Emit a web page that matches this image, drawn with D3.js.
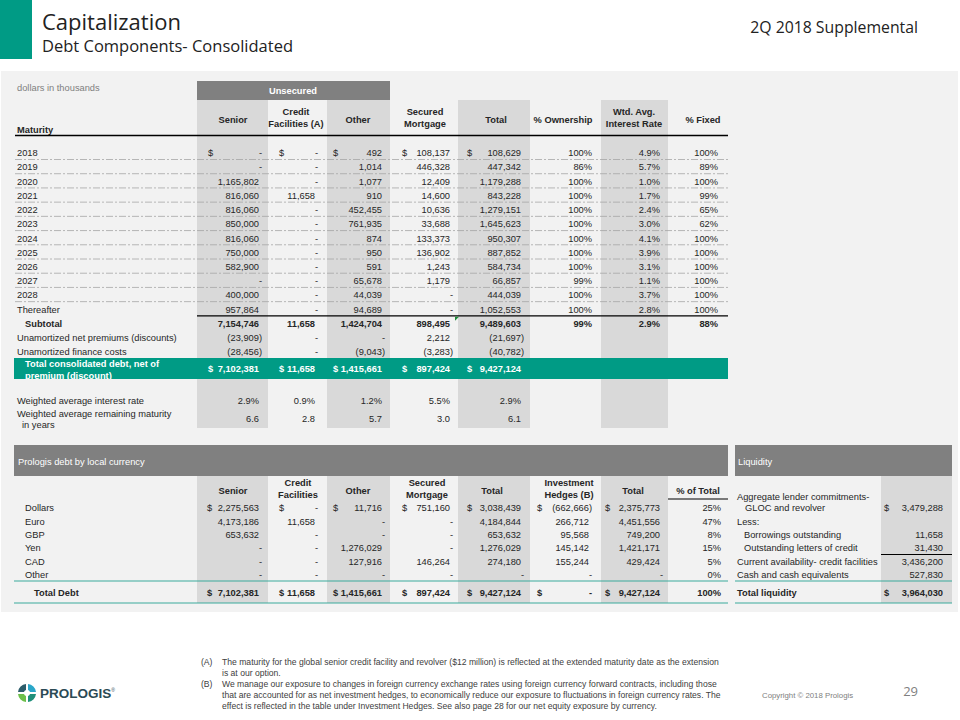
<!DOCTYPE html>
<html><head><meta charset="utf-8">
<script src="https://cdn.jsdelivr.net/npm/d3@7"></script>
<style>
html,body{margin:0;padding:0;background:#fff;}
svg{display:block;}
text{font-family:"Liberation Sans",Arial,sans-serif;}
.title{font-family:"Open Sans","Noto Sans",sans-serif;}
</style></head>
<body>
<script>
// ---------------- DATA ----------------
const maturityYears = ["2018","2019","2020","2021","2022","2023","2024","2025","2026","2027","2028","Thereafter"];
const seniorByYear   = [0,0,1165802,816060,816060,850000,816060,750000,582900,0,400000,957864];
const creditByYear   = [0,0,0,11658,0,0,0,0,0,0,0,0];
const otherByYear    = [492,1014,1077,910,452455,761935,874,950,591,65678,44039,94689];
const securedByYear  = [108137,446328,12409,14600,10636,33688,133373,136902,1243,1179,0,0];
const totalByYear    = [108629,447342,1179288,843228,1279151,1645623,950307,887852,584734,66857,444039,1052553];
const ownershipPct   = [100,86,100,100,100,100,100,100,100,99,100,100];
const interestRate   = [4.9,5.7,1.0,1.7,2.4,3.0,4.1,3.9,3.1,1.1,3.7,2.8];
const fixedPct       = [100,89,100,99,65,62,100,100,100,100,100,100];

const topHeaders = [["Senior"],["Credit","Facilities (A)"],["Other"],["Secured","Mortgage"],["Total"],["% Ownership"],["Wtd. Avg.","Interest Rate"],["% Fixed"]];
const subtotalRow = [7154746,11658,1424704,898495,9489603];
const subtotalPcts = ["99%","2.9%","88%"];
const premiumsRow = [-23909,0,0,2212,-21697];
const financeCostsRow = [-28456,0,-9043,-3283,-40782];
const totalConsolidatedRow = [7102381,11658,1415661,897424,9427124];
const wtdRateRow = [2.9,0.9,1.2,5.5,2.9];
const wtdMaturityRow = [6.6,2.8,5.7,3.0,6.1];

const currencies = ["Dollars","Euro","GBP","Yen","CAD","Other"];
const curHeaders = [["Senior"],["Credit","Facilities"],["Other"],["Secured","Mortgage"],["Total"],["Investment","Hedges (B)"],["Total"],["% of Total"]];
const curSenior  = [2275563,4173186,653632,0,0,0];
const curCredit  = [0,11658,0,0,0,0];
const curOther   = [11716,0,0,1276029,127916,0];
const curSecured = [751160,0,0,0,146264,0];
const curTotal   = [3038439,4184844,653632,1276029,274180,0];
const curHedges  = [-662666,266712,95568,145142,155244,0];
const curTotal2  = [2375773,4451556,749200,1421171,429424,0];
const curPct     = [25,47,8,15,5,0];
const curTotalDebt = [7102381,11658,1415661,897424,9427124,0,9427124];

const liquidityLabels = ["Aggregate lender commitments-|GLOC and revolver","Less:","Borrowings outstanding","Outstanding letters of credit","Current availability- credit facilities","Cash and cash equivalents"];
const liquidityValues = [3479288,null,11658,31430,3436200,527830];
const totalLiquidity = 3964030;

const footnotes = [
 ["(A)",["The maturity for the global senior credit facility and revolver ($12 million) is reflected at the extended maturity date as the extension","is at our option."]],
 ["(B)",["We manage our exposure to changes in foreign currency exchange rates using foreign currency forward contracts, including those","that are accounted for as net investment hedges, to economically reduce our exposure to fluctuations in foreign currency rates. The","effect is reflected in the table under Investment Hedges. See also page 28 for our net equity exposure by currency."]]
];

// ---------------- LAYOUT ----------------
const W=960,H=720;
const TEAL="#009b85", DARK="#808080", SHADE="#d9d9d9", PANEL="#f2f2f2", TXT="#262626";
const FS=9.3;
const svg=d3.select("body").append("svg").attr("width",W).attr("height",H);

const fmt=d3.format(",");
function num(v){ if(v===0||v===null) return "-"; return v<0?"("+fmt(-v)+")":fmt(v); }

// header
svg.append("rect").attr("x",0).attr("y",0).attr("width",32).attr("height",59).attr("fill",TEAL);
svg.append("text").attr("class","title").attr("x",42).attr("y",30).attr("font-size",22).attr("fill","#222").text("Capitalization");
svg.append("text").attr("class","title").attr("x",42).attr("y",52).attr("font-size",16.5).attr("fill","#222").text("Debt Components- Consolidated");
svg.append("text").attr("class","title").attr("x",918).attr("y",33).attr("text-anchor","end").attr("font-size",15.8).attr("fill","#222").text("2Q 2018 Supplemental");

svg.append("rect").attr("x",1).attr("y",71).attr("width",957).attr("height",541).attr("fill",PANEL);

// ---- top table scales
const topCols=["senior","credit","other","secured","total","own","wtd","fixed"];
const colLeft=d3.scaleOrdinal().domain(topCols).range([197,268,327,390,458,530,601,668]);
const colRight=d3.scaleOrdinal().domain(topCols).range([268,327,390,458,530,601,668,728]);
const numEdge=d3.scaleOrdinal().domain(topCols).range([259,315,382,450,521,592,660,718]);
const dollarX=d3.scaleOrdinal().domain(topCols).range([208,279,333,402,467,0,0,0]);
const headCenter=d3.scaleOrdinal().domain(topCols).range([233,296,358,425,496,563,634,703]);
const yRow=d3.scaleLinear().domain([0,14]).range([153,352]);

const g=svg.append("g");
["senior","other","total","wtd"].forEach(c=>{
  g.append("rect").attr("x",colLeft(c)).attr("y",100).attr("width",colRight(c)-colLeft(c)).attr("height",328).attr("fill",SHADE);
});
g.append("rect").attr("x",197).attr("y",81).attr("width",193).attr("height",19).attr("fill",DARK);

function cellText(parent,x,y,t,opts={}){
  return parent.append("text").attr("x",x).attr("y",y).attr("dy","0.35em")
    .attr("text-anchor",opts.anchor||"end").attr("font-size",opts.size||FS)
    .attr("font-weight",opts.bold?"bold":null).attr("fill",opts.fill||TXT).text(t);
}
cellText(g,293,91,"Unsecured",{anchor:"middle",bold:true,fill:"#fff"});
cellText(g,17,88,"dollars in thousands",{anchor:"start",fill:"#7f7f7f"});
cellText(g,17,130,"Maturity",{anchor:"start",bold:true});
topCols.forEach((c,i)=>{
  const lines=topHeaders[i];
  lines.forEach((l,k)=>{
    const yy = lines.length===1 ? 120 : 112+k*12;
    cellText(g,headCenter(c),yy,l,{anchor:"middle",bold:true});
  });
});
g.append("line").attr("x1",15).attr("x2",728).attr("y1",135.5).attr("y2",135.5).attr("stroke","#000").attr("stroke-width",1.3);

function valCell(parent,c,y,v,opts={},edge=numEdge){
  let x=edge(c);
  const s=num(v);
  if(s==="-"||v<0) x+=3;
  cellText(parent,x,y,s,opts);
}

const yearCols=[seniorByYear,creditByYear,otherByYear,securedByYear,totalByYear];
maturityYears.forEach((yr,i)=>{
  const y=yRow(i);
  cellText(g,17,y,yr,{anchor:"start"});
  yearCols.forEach((arr,k)=>{
    valCell(g,topCols[k],y,arr[i]);
    if(i===0) cellText(g,dollarX(topCols[k]),y,"$",{anchor:"start"});
  });
  cellText(g,numEdge("own"),y,ownershipPct[i]+"%");
  cellText(g,numEdge("wtd"),y,interestRate[i].toFixed(1)+"%");
  cellText(g,numEdge("fixed"),y,fixedPct[i]+"%");
  if(i<maturityYears.length-1){
    g.append("line").attr("x1",15).attr("x2",728).attr("y1",y+6.5).attr("y2",y+6.5)
      .attr("stroke","#a6a6a6").attr("stroke-width",0.8).attr("stroke-dasharray","7,2,2,2");
  }
});
g.append("line").attr("x1",197).attr("x2",728).attr("y1",yRow(11)+6.5).attr("y2",yRow(11)+6.5).attr("stroke","#000").attr("stroke-width",1.2);
g.append("path").attr("d",`M${colRight("secured")-3},${yRow(11)+7.5}l4,0l-4,4z`).attr("fill","#1e8c3a");

let y=yRow(12);
cellText(g,25,y,"Subtotal",{anchor:"start",bold:true});
subtotalRow.forEach((v,k)=>valCell(g,topCols[k],y,v,{bold:true}));
["own","wtd","fixed"].forEach((c,k)=>cellText(g,numEdge(c),y,subtotalPcts[k],{bold:true}));
y=yRow(13);
cellText(g,17,y,"Unamortized net premiums (discounts)",{anchor:"start"});
premiumsRow.forEach((v,k)=>valCell(g,topCols[k],y,v));
y=yRow(14);
cellText(g,17,y,"Unamortized finance costs",{anchor:"start"});
financeCostsRow.forEach((v,k)=>valCell(g,topCols[k],y,v));

// total consolidated band
g.append("clipPath").attr("id","bandclip").append("rect").attr("x",14).attr("y",358).attr("width",714).attr("height",21);
g.append("rect").attr("x",14).attr("y",358).attr("width",714).attr("height",21).attr("fill",TEAL);
const bandT=g.append("g").attr("clip-path","url(#bandclip)");
cellText(bandT,25,364,"Total consolidated debt, net of",{anchor:"start",bold:true,fill:"#fff"});
cellText(bandT,25,375.5,"premium (discount)",{anchor:"start",bold:true,fill:"#fff"});
totalConsolidatedRow.forEach((v,k)=>{
  valCell(g,topCols[k],369,v,{bold:true,fill:"#fff"});
  cellText(g,dollarX(topCols[k]),369,"$",{anchor:"start",bold:true,fill:"#fff"});
});

y=401;
cellText(g,17,y,"Weighted average interest rate",{anchor:"start"});
wtdRateRow.forEach((v,k)=>cellText(g,numEdge(topCols[k]),y,v.toFixed(1)+"%"));
cellText(g,17,414,"Weighted average remaining maturity",{anchor:"start"});
cellText(g,22,425,"in years",{anchor:"start"});
wtdMaturityRow.forEach((v,k)=>cellText(g,numEdge(topCols[k]),419,v.toFixed(1)));

// ---------------- bottom currency table ----------------
const bCols=["senior","credit","other","secured","total","hedges","total2","pct"];
const bLeft=d3.scaleOrdinal().domain(bCols).range([197,268,327,390,458,530,601,668]);
const bRight=d3.scaleOrdinal().domain(bCols).range([268,327,390,458,530,601,668,728]);
const bEdge=d3.scaleOrdinal().domain(bCols).range([259,315,382,450,521,589,660,721]);
const bDollar=d3.scaleOrdinal().domain(bCols).range([207,279,333,402,467,537,605,0]);
const bHead=d3.scaleOrdinal().domain(bCols).range([233,298,358,427,492,569,633,698]);
const yCur=d3.scaleLinear().domain([0,5]).range([508,575]);

const b=svg.append("g");
["senior","other","total","total2"].forEach(c=>{
  b.append("rect").attr("x",bLeft(c)).attr("y",476).attr("width",bRight(c)-bLeft(c)).attr("height",127).attr("fill",SHADE);
});
b.append("rect").attr("x",881).attr("y",476).attr("width",71).attr("height",127).attr("fill",SHADE);
b.append("rect").attr("x",14).attr("y",445).attr("width",714).attr("height",31).attr("fill",DARK);
b.append("rect").attr("x",735).attr("y",445).attr("width",217).attr("height",31).attr("fill",DARK);
cellText(b,18,462,"Prologis debt by local currency",{anchor:"start",fill:"#fff"});
cellText(b,738,462,"Liquidity",{anchor:"start",fill:"#fff"});
bCols.forEach((c,i)=>{
  const lines=curHeaders[i];
  lines.forEach((l,k)=>{
    const yy = lines.length===1 ? 491 : 483+k*12;
    cellText(b,bHead(c),yy,l,{anchor:"middle",bold:true});
  });
});
b.append("line").attr("x1",668).attr("x2",728).attr("y1",499).attr("y2",499).attr("stroke","#000").attr("stroke-width",1.2);

const curCols=[curSenior,curCredit,curOther,curSecured,curTotal,curHedges,curTotal2];
currencies.forEach((cur,i)=>{
  const yy=yCur(i);
  cellText(b,25,yy,cur,{anchor:"start"});
  curCols.forEach((arr,k)=>{
    valCell(b,bCols[k],yy,arr[i],{},bEdge);
    if(i===0) cellText(b,bDollar(bCols[k]),yy,"$",{anchor:"start"});
  });
  cellText(b,bEdge("pct"),yy,curPct[i]+"%");
});
[581,603].forEach(yy=>{
  b.append("line").attr("x1",14).attr("x2",728).attr("y1",yy).attr("y2",yy).attr("stroke","#3aaa9c").attr("stroke-width",1.2);
  b.append("line").attr("x1",735).attr("x2",952).attr("y1",yy).attr("y2",yy).attr("stroke","#3aaa9c").attr("stroke-width",1.2);
});
cellText(b,34,593,"Total Debt",{anchor:"start",bold:true});
curTotalDebt.forEach((v,k)=>{
  valCell(b,bCols[k],593,v,{bold:true},bEdge);
  cellText(b,bDollar(bCols[k]),593,"$",{anchor:"start",bold:true});
});
cellText(b,bEdge("pct"),593,"100%",{bold:true});

// liquidity
const liqY=[508,522,535,548,562,575];
liquidityLabels.forEach((l,i)=>{
  if(l.includes("|")){
    const [a,c]=l.split("|");
    cellText(b,737,497,a,{anchor:"start"});
    cellText(b,745,508,c,{anchor:"start"});
  } else {
    const indent=(i===2||i===3)?744:737;
    cellText(b,indent,liqY[i],l,{anchor:"start"});
  }
  if(liquidityValues[i]!==null) cellText(b,943,liqY[i],num(liquidityValues[i]));
});
cellText(b,884,508,"$",{anchor:"start"});
b.append("line").attr("x1",881).attr("x2",952).attr("y1",554.5).attr("y2",554.5).attr("stroke","#000").attr("stroke-width",1.2);
cellText(b,737,593,"Total liquidity",{anchor:"start",bold:true});
cellText(b,943,593,num(totalLiquidity),{bold:true});
cellText(b,884,593,"$",{anchor:"start",bold:true});

// ---------------- footer ----------------
const f=svg.append("g");
let fy=662;
footnotes.forEach(([mark,lines])=>{
  cellText(f,201,fy,mark,{anchor:"start",size:8.6,fill:"#404040"});
  lines.forEach((l,k)=>{ cellText(f,222,fy,l,{anchor:"start",size:8.6,fill:"#404040"}); fy+=11; });
});
cellText(f,762,695,"Copyright © 2018 Prologis",{anchor:"start",size:7.8,fill:"#808080"});
f.append("text").attr("class","title").attr("x",918).attr("y",696).attr("text-anchor","end").attr("font-size",13).attr("fill","#7f7f7f").text("29");

// logo
const lg=f.append("g").attr("transform","translate(27,693)");
lg.append("path").attr("d","M-1,-9 A9,9 0 0,0 -9,-1 L-3,-1 A3,3 0 0,1 -1,-3 Z").attr("fill","#2d5d6b");
lg.append("path").attr("d","M1,-9 A9,9 0 0,1 9,-1 L3,-1 A3,3 0 0,0 1,-3 Z").attr("fill","#2aa7c9");
lg.append("path").attr("d","M-9,1 A9,9 0 0,0 -1,9 L-1,3 A3,3 0 0,1 -3,1 Z").attr("fill","#6cbf4a");
lg.append("path").attr("d","M9,1 A9,9 0 0,1 1,9 L1,3 A3,3 0 0,0 3,1 Z").attr("fill","#1f8f7a");
const lt=f.append("text").attr("x",40).attr("y",698).attr("font-family","'Open Sans','Liberation Sans',sans-serif").attr("font-size",13.5).attr("fill","#2b4a55");
lt.append("tspan").attr("font-weight","800").text("PRO");
lt.append("tspan").attr("font-weight","600").text("LOGIS");
lt.append("tspan").attr("font-size",5).attr("dy",-6).text("®");
</script>
</body></html>
